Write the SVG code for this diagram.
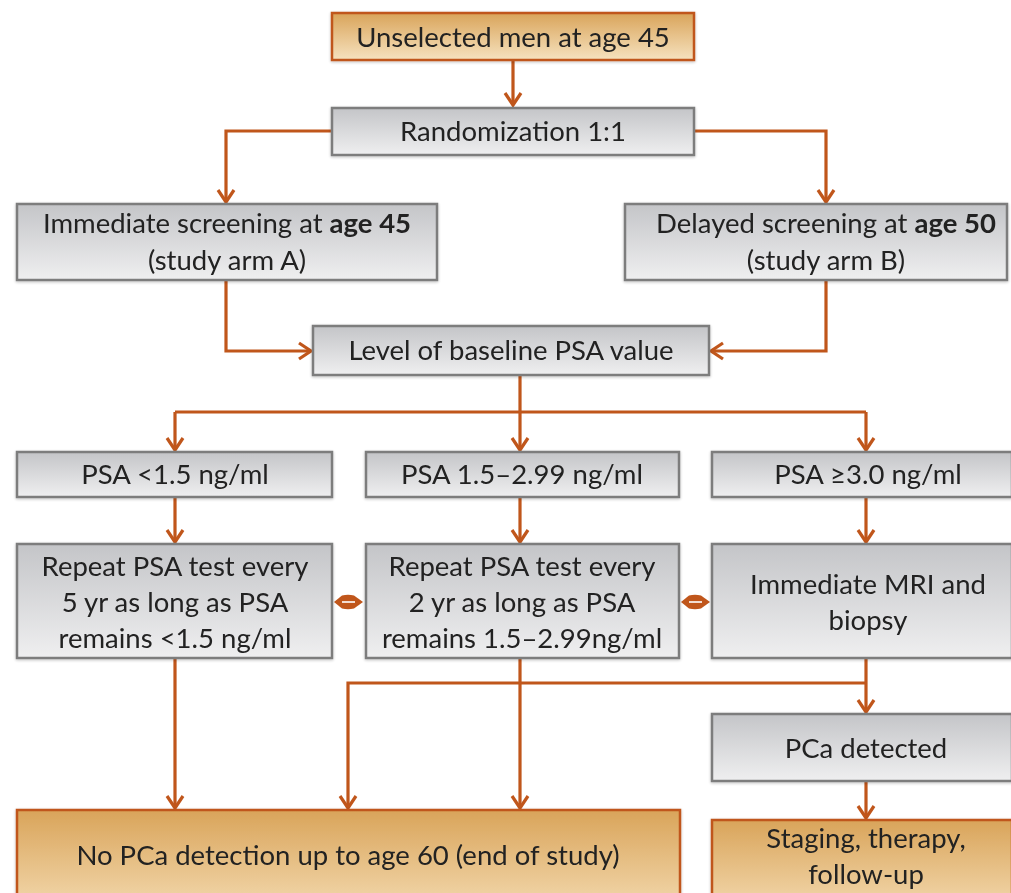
<svg xmlns="http://www.w3.org/2000/svg" width="1011" height="893" viewBox="0 0 1011 893">
<defs>
<linearGradient id="gGray" x1="0" y1="0" x2="0" y2="1">
<stop offset="0" stop-color="#c4c5c8"/>
<stop offset="1" stop-color="#efeff0"/>
</linearGradient>
<linearGradient id="gOrange" x1="0" y1="0" x2="0" y2="1">
<stop offset="0" stop-color="#d9a45a"/>
<stop offset="1" stop-color="#f6e2bf"/>
</linearGradient>
<linearGradient id="gOrangeTall" x1="0" y1="0" x2="0" y2="1">
<stop offset="0" stop-color="#d9a45a"/>
<stop offset="1" stop-color="#f3d9ae"/>
</linearGradient>
<marker id="arr" viewBox="0 0 15 18" refX="13" refY="9" markerWidth="15" markerHeight="18" markerUnits="userSpaceOnUse" orient="auto" overflow="visible">
<path d="M1,1 L13,9 L1,17" fill="none" stroke="#c0561b" stroke-width="3.2"/>
</marker>
<filter id="sh" x="-5%" y="-10%" width="110%" height="130%">
<feGaussianBlur in="SourceAlpha" stdDeviation="1.5"/>
<feOffset dx="0" dy="1" result="b"/>
<feComponentTransfer><feFuncA type="linear" slope="0.25"/></feComponentTransfer>
<feMerge><feMergeNode/><feMergeNode in="SourceGraphic"/></feMerge>
</filter>
</defs>
<style>
.gray{fill:url(#gGray);stroke:#7d7d7d;stroke-width:2.5}
.org{fill:url(#gOrange);stroke:#c0561b;stroke-width:2.5}
.orgT{fill:url(#gOrangeTall);stroke:#c0561b;stroke-width:2.5}
.t{font-family:Lato,"Open Sans","Liberation Sans",sans-serif;font-size:27.5px;fill:#222222;text-anchor:middle}
.b{font-weight:bold}
.c{fill:none;stroke:#c0561b;stroke-width:3.2}
.dm{fill:#c0561b}
.dl{stroke:#ffffff;stroke-width:1.6}
</style>
<rect width="1011" height="893" fill="#ffffff"/>

<g id="connectors">
<path class="c" d="M513,61 V105" marker-end="url(#arr)"/>
<path class="c" d="M332,131 H226 V202" marker-end="url(#arr)"/>
<path class="c" d="M694,131 H826 V202" marker-end="url(#arr)"/>
<path class="c" d="M226,281 V351 H311" marker-end="url(#arr)"/>
<path class="c" d="M826,281 V351 H711" marker-end="url(#arr)"/>
<path class="c" d="M520,376 V412"/>
<path class="c" d="M175,412 H866"/>
<path class="c" d="M175,412 V450" marker-end="url(#arr)"/>
<path class="c" d="M520,412 V450" marker-end="url(#arr)"/>
<path class="c" d="M866,412 V450" marker-end="url(#arr)"/>
<path class="c" d="M175,498 V542" marker-end="url(#arr)"/>
<path class="c" d="M520,498 V542" marker-end="url(#arr)"/>
<path class="c" d="M866,498 V542" marker-end="url(#arr)"/>
<path class="c" d="M175,659 V808" marker-end="url(#arr)"/>
<path class="c" d="M520,659 V808" marker-end="url(#arr)"/>
<path class="c" d="M866,659 V712" marker-end="url(#arr)"/>
<path class="c" d="M866,683 H348 V808" marker-end="url(#arr)"/>
<path class="c" d="M866,782 V818" marker-end="url(#arr)"/>
<g id="link-ab">
<path class="dm" d="M334,602 L342,595.5 Q348,594 354,595.5 L363,602 L354,608.5 Q348,610 342,608.5 Z"/>
<path class="dl" d="M342,602 H355"/>
</g>
<g id="link-bc">
<path class="dm" d="M681,602 L689,595.5 Q695,594 701,595.5 L710,602 L701,608.5 Q695,610 689,608.5 Z"/>
<path class="dl" d="M689,602 H702"/>
</g>
</g>

<g id="n-unselected" filter="url(#sh)">
<rect class="org" x="332" y="13" width="362" height="47"/>
<text class="t" x="513" y="47">Unselected men at age 45</text>
</g>
<g id="n-random" filter="url(#sh)">
<rect class="gray" x="332" y="108" width="362" height="47"/>
<text class="t" x="513" y="141">Randomization 1:1</text>
</g>
<g id="n-armA" filter="url(#sh)">
<rect class="gray" x="17" y="204" width="420" height="76"/>
<text class="t" x="227" y="233">Immediate screening at <tspan class="b">age 45</tspan></text>
<text class="t" x="227" y="270">(study arm A)</text>
</g>
<g id="n-armB" filter="url(#sh)">
<rect class="gray" x="625" y="204" width="382" height="76"/>
<text class="t" x="826" y="233">Delayed screening at <tspan class="b">age 50</tspan></text>
<text class="t" x="826" y="270">(study arm B)</text>
</g>
<g id="n-level" filter="url(#sh)">
<rect class="gray" x="313" y="326" width="396" height="49"/>
<text class="t" x="511" y="360">Level of baseline PSA value</text>
</g>
<g id="n-psa1" filter="url(#sh)">
<rect class="gray" x="17" y="452" width="315" height="45"/>
<text class="t" x="175" y="484">PSA &lt;1.5 ng/ml</text>
</g>
<g id="n-psa2" filter="url(#sh)">
<rect class="gray" x="366" y="452" width="313" height="45"/>
<text class="t" x="522" y="484">PSA 1.5–2.99 ng/ml</text>
</g>
<g id="n-psa3" filter="url(#sh)">
<rect class="gray" x="712" y="452" width="300" height="45"/>
<text class="t" x="868" y="484">PSA ≥3.0 ng/ml</text>
</g>
<g id="n-rep1" filter="url(#sh)">
<rect class="gray" x="17" y="544" width="315" height="114"/>
<text class="t" x="175" y="576">Repeat PSA test every</text>
<text class="t" x="175" y="612">5 yr as long as PSA</text>
<text class="t" x="175" y="648">remains &lt;1.5 ng/ml</text>
</g>
<g id="n-rep2" filter="url(#sh)">
<rect class="gray" x="366" y="544" width="313" height="114"/>
<text class="t" x="522" y="576">Repeat PSA test every</text>
<text class="t" x="522" y="612">2 yr as long as PSA</text>
<text class="t" x="522" y="648">remains 1.5–2.99ng/ml</text>
</g>
<g id="n-mri" filter="url(#sh)">
<rect class="gray" x="712" y="544" width="300" height="114"/>
<text class="t" x="868" y="594">Immediate MRI and</text>
<text class="t" x="868" y="630">biopsy</text>
</g>
<g id="n-pca" filter="url(#sh)">
<rect class="gray" x="712" y="714" width="300" height="67"/>
<text class="t" x="866" y="758">PCa detected</text>
</g>
<g id="n-nopca" filter="url(#sh)">
<rect class="orgT" x="17" y="810" width="663" height="100"/>
<text class="t" x="348" y="865">No PCa detection up to age 60 (end of study)</text>
</g>
<g id="n-staging" filter="url(#sh)">
<rect class="orgT" x="712" y="820" width="300" height="90"/>
<text class="t" x="866" y="848">Staging, therapy,</text>
<text class="t" x="866" y="884">follow-up</text>
</g>
</svg>
